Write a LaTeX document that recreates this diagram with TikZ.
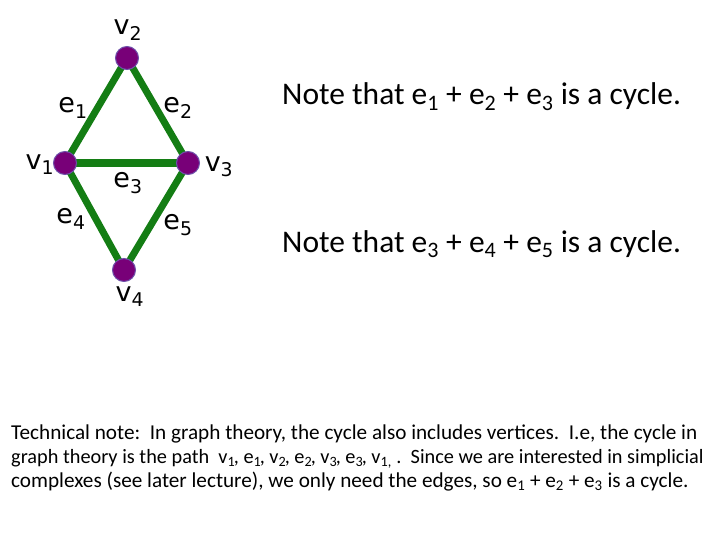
\documentclass[tikz,border=0pt]{standalone}
\usepackage{fontspec}
\setmainfont{Carlito}
\newfontfamily\lbl{DejaVu Sans}
\definecolor{edgegreen}{RGB}{20,125,20}
\definecolor{vpurple}{RGB}{120,0,120}
\definecolor{vborder}{RGB}{110,80,170}
\newcommand{\tsb}[1]{\textsubscript{#1}\kern-1.5pt}
\begin{document}
\begin{tikzpicture}[x=1pt,y=-1pt,
  vert/.style={circle,fill=vpurple,draw=vborder,line width=1pt,minimum size=23pt,inner sep=0pt},
  edge/.style={draw=edgegreen,line width=7pt},
  glabel/.style={font=\lbl\fontsize{27}{30}\selectfont,inner sep=0pt},
  note/.style={font=\fontsize{31.5}{36}\selectfont,anchor=base west,inner sep=0pt},
  tech/.style={font=\fontsize{21.2}{24}\selectfont,anchor=base west,inner sep=0pt,align=left}]
\useasboundingbox (0,0) rectangle (720,540);
\coordinate (p1) at (65,163);
\coordinate (p2) at (127,58);
\coordinate (p3) at (188,163);
\coordinate (p4) at (124,270);
\draw[edge] (p1) -- (p2);
\draw[edge] (p2) -- (p3);
\draw[edge,line width=8pt] (p1) -- (p3);
\draw[edge] (p1) -- (p4);
\draw[edge] (p3) -- (p4);
\node[vert] (v1) at (p1) {};
\node[vert] (v2) at (p2) {};
\node[vert] (v3) at (p3) {};
\node[vert] (v4) at (p4) {};
\node[glabel] (lv2) at (128,30) {v\textsubscript{2}};
\node[glabel] (lv1) at (40,165) {v\textsubscript{1}};
\node[glabel] (lv3) at (219,167) {v\textsubscript{3}};
\node[glabel] (lv4) at (130,297) {v\textsubscript{4}};
\node[glabel] (le1) at (73,108) {e\textsubscript{1}};
\node[glabel] (le2) at (178,108) {e\textsubscript{2}};
\node[glabel] (le3) at (128,183) {e\textsubscript{3}};
\node[glabel] (le4) at (71,219) {e\textsubscript{4}};
\node[glabel] (le5) at (178,225) {e\textsubscript{5}};
\node[note] (n1) at (282,105) {Note that e\textsubscript{1} + e\textsubscript{2} + e\textsubscript{3} is a cycle.};
\node[note] (n2) at (282,252) {Note that e\textsubscript{3} + e\textsubscript{4} + e\textsubscript{5} is a cycle.};
\node[tech] (t1) at (11,439) {Technical note:\ \ In graph theory, the cycle also includes vertices.\ \ I.e, the cycle in};
\node[tech,font=\fontsize{20.3}{24}\selectfont] (t2) at (11,463) {graph theory is the path\ \ v\tsb{1}, e\tsb{1}, v\tsb{2}, e\tsb{2}, v\tsb{3}, e\tsb{3}, v\textsubscript{1,}\ .\ \ Since we are interested in simplicial};
\node[tech] (t3) at (11,487) {complexes (see later lecture), we only need the edges, so e\textsubscript{1} + e\textsubscript{2} + e\textsubscript{3} is a cycle.};
\end{tikzpicture}
\end{document}
